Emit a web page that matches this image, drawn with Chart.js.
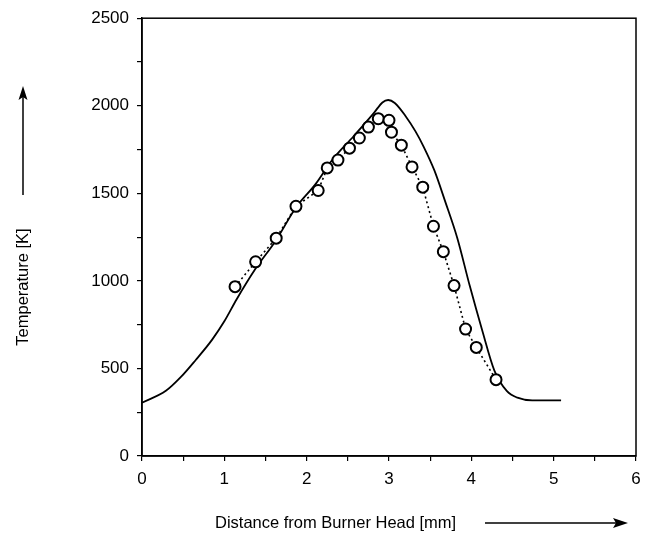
<!DOCTYPE html>
<html>
<head>
<meta charset="utf-8">
<script src="https://cdn.jsdelivr.net/npm/chart.js@4.4.1/dist/chart.umd.min.js"></script>
<style>
  html, body { margin: 0; padding: 0; background: #fff; }
  #wrap { width: 650px; height: 537px; }
</style>
</head>
<body>
<div id="wrap"><canvas id="temp"></canvas></div>
<script>
// calculated profile (solid line)
const calcDist = [0, 0.29, 0.47, 0.65, 0.85, 1.0, 1.15, 1.38, 1.63, 1.87, 2.11, 2.31, 2.57, 2.82, 2.92, 2.99, 3.07, 3.2, 3.32, 3.42, 3.55, 3.68, 3.83, 3.98, 4.13, 4.28, 4.43, 4.56, 4.74, 5.09];
const calcTemp = [304, 372, 450, 547, 663, 769, 895, 1070, 1234, 1419, 1554, 1690, 1826, 1961, 2019, 2033, 2016, 1942, 1855, 1767, 1632, 1457, 1244, 973, 721, 488, 372, 333, 318, 318];

// measured points (circles, dotted)
const measDist = [1.13, 1.38, 1.63, 1.87, 2.14, 2.25, 2.38, 2.52, 2.64, 2.75, 2.87, 3.0, 3.03, 3.15, 3.28, 3.41, 3.54, 3.66, 3.79, 3.93, 4.06, 4.30];
const measTemp = [967, 1109, 1244, 1426, 1516, 1645, 1690, 1758, 1816, 1878, 1926, 1917, 1849, 1775, 1651, 1535, 1312, 1167, 973, 725, 620, 436];

const xMajor = [0, 1, 2, 3, 4, 5, 6];
const yMajor = [0, 500, 1000, 1500, 2000, 2500];

const toPts = (xs, ys) => xs.map((x, i) => ({ x: x, y: ys[i] }));

// box round the plot, axis titles and their arrows
const frame = {
  id: 'frame',
  afterDraw(chart) {
    const ctx = chart.ctx, a = chart.chartArea;
    ctx.save();
    ctx.strokeStyle = '#000';
    ctx.lineWidth = 1.5;
    ctx.strokeRect(a.left, a.top, a.right - a.left, a.bottom - a.top);

    ctx.fillStyle = '#000';
    ctx.font = '16.5px "Liberation Sans", Arial, sans-serif';
    ctx.textBaseline = 'middle';

    ctx.save();
    ctx.translate(23, 287);
    ctx.rotate(-Math.PI / 2);
    ctx.textAlign = 'center';
    ctx.fillText('Temperature [K]', 0, 0);
    ctx.restore();
    ctx.beginPath();
    ctx.moveTo(23, 195); ctx.lineTo(23, 94);
    ctx.stroke();
    ctx.beginPath();
    ctx.moveTo(23, 86); ctx.lineTo(18.5, 100); ctx.lineTo(23, 97); ctx.lineTo(27.5, 100);
    ctx.closePath(); ctx.fill();

    ctx.textAlign = 'left';
    ctx.fillText('Distance from Burner Head [mm]', 215, 523);
    ctx.beginPath();
    ctx.moveTo(485, 523); ctx.lineTo(620, 523);
    ctx.stroke();
    ctx.beginPath();
    ctx.moveTo(628, 523); ctx.lineTo(613, 518); ctx.lineTo(616, 523); ctx.lineTo(613, 528);
    ctx.closePath(); ctx.fill();
    ctx.restore();
  }
};

const tickFont = { family: '"Liberation Sans", Arial, sans-serif', size: 17 };

new Chart(document.getElementById('temp'), {
  type: 'scatter',
  data: {
    datasets: [
      {
        label: 'measured',
        data: toPts(measDist, measTemp),
        showLine: true,
        borderColor: '#000',
        borderWidth: 1.6,
        borderDash: [2, 3],
        pointRadius: 5.5,
        pointBorderWidth: 2,
        pointBackgroundColor: '#fff',
        pointBorderColor: '#000',
        order: 1
      },
      {
        label: 'calculated',
        data: toPts(calcDist, calcTemp),
        showLine: true,
        borderColor: '#000',
        borderWidth: 1.8,
        pointRadius: 0,
        cubicInterpolationMode: 'monotone',
        order: 2
      }
    ]
  },
  options: {
    responsive: true,
    maintainAspectRatio: false,
    animation: false,
    layout: { padding: { top: 15, right: 14, left: 0, bottom: 0 } },
    plugins: { legend: { display: false }, tooltip: { enabled: false } },
    scales: {
      x: {
        type: 'linear',
        min: 0, max: 6,
        afterFit: s => { s.height = 81; },
        border: { display: true, color: '#000', width: 1.5 },
        grid: { drawOnChartArea: false, drawTicks: true, tickLength: 5, color: '#000', lineWidth: 1.2 },
        ticks: {
          stepSize: 0.5,
          color: '#000',
          font: tickFont,
          padding: 8,
          maxRotation: 0,
          callback: v => xMajor.includes(v) ? String(v) : ''
        }
      },
      y: {
        min: 0, max: 2500,
        afterFit: s => { s.width = 142; },
        border: { display: true, color: '#000', width: 1.5 },
        grid: { drawOnChartArea: false, drawTicks: true, tickLength: 5, color: '#000', lineWidth: 1.2 },
        ticks: {
          stepSize: 250,
          color: '#000',
          font: tickFont,
          padding: 8,
          callback: v => yMajor.includes(v) ? String(v) : ''
        }
      }
    }
  },
  plugins: [frame]
});
</script>
</body>
</html>
